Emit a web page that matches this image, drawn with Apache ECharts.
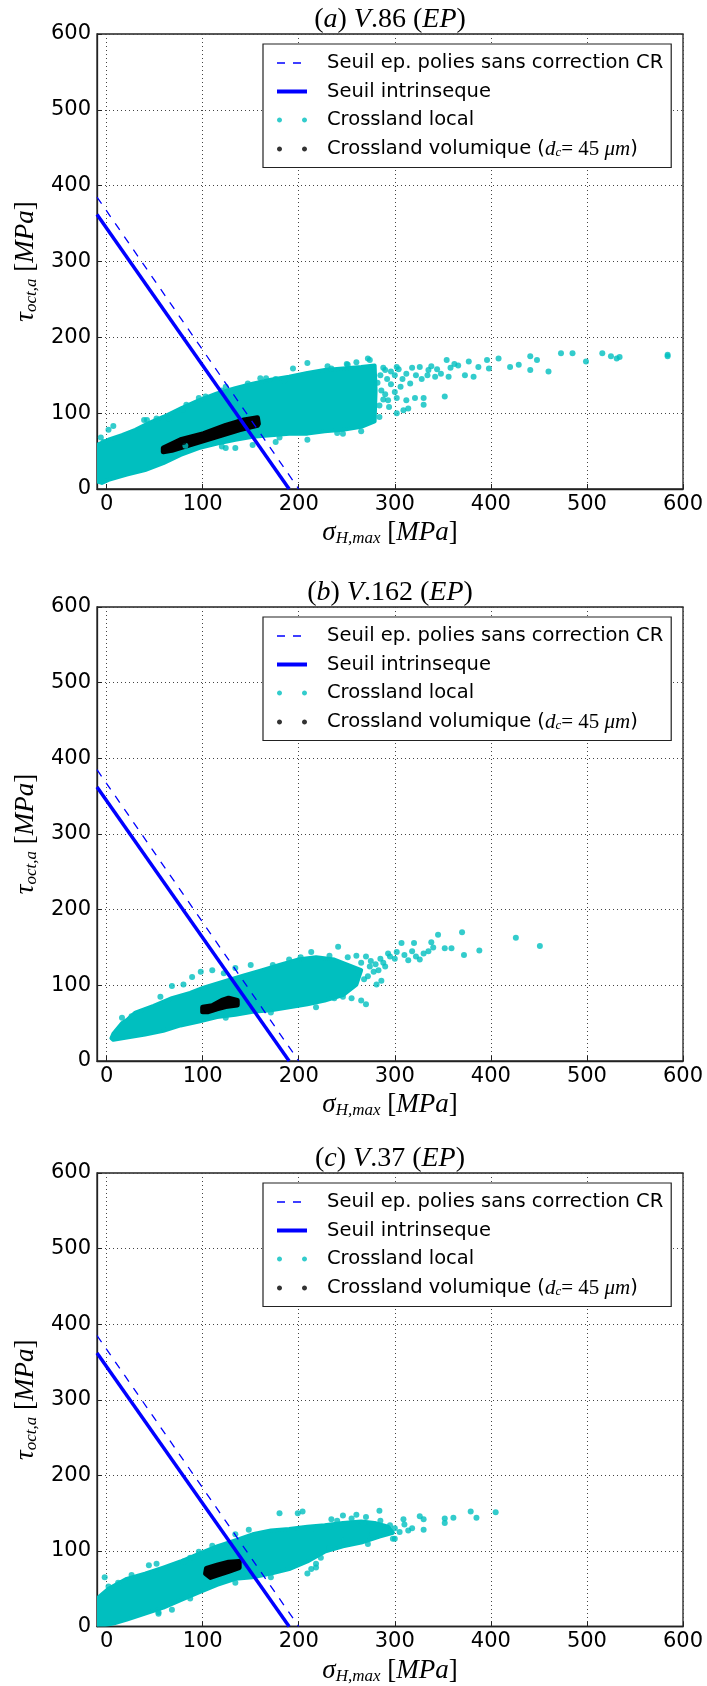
<!DOCTYPE html>
<html>
<head>
<meta charset="utf-8">
<script src="https://cdn.jsdelivr.net/npm/echarts@6/dist/echarts.min.js"></script>
<style>
  html, body { margin: 0; padding: 0; background: #fff; }
  #chart { width: 707px; height: 1686px; }
</style>
</head>
<body>
<div id="chart"></div>
<script>
// panel titles: [letter, specimen]
const panelTitles = [['a', '86'], ['b', '162'], ['c', '37']];

// threshold lines [sigma_H,max, tau_oct,a]
const seuilCR = [[-10, 385], [200, 0]];
const seuilIntr = [[-10, 362], [190, 0]];

// outline of the dense "Crossland local" cloud, per panel
const cloudA = [[-10, 58], [2, 65], [16, 71], [30, 78], [44, 87], [59, 95], [77, 106], [96, 117], [115, 126], [134, 133], [152, 139], [171, 144], [190, 148], [209, 153], [227, 157], [246, 159], [265, 161], [279, 163], [280, 130], [279, 89], [265, 82], [246, 78], [227, 76], [209, 73], [190, 73], [171, 71], [152, 69], [134, 65], [115, 60], [96, 54], [77, 45], [59, 34], [40, 25], [21, 19], [2, 12], [-5, 8], [-10, 10]];
const cloudB = [[5, 30], [7, 36], [16, 50], [21, 54], [30, 64], [49, 73], [68, 83], [87, 90], [101, 97], [124, 106], [143, 113], [162, 120], [180, 127], [199, 134], [218, 137], [237, 134], [251, 127], [265, 120], [260, 101], [246, 87], [227, 80], [209, 75], [190, 71], [171, 67], [152, 65], [134, 61], [115, 58], [96, 52], [77, 47], [59, 40], [40, 35], [21, 31], [7, 28]];
const cloudC = [[-10, 37], [2, 50], [21, 63], [40, 70], [59, 78], [77, 86], [96, 96], [115, 106], [134, 114], [152, 122], [171, 127], [190, 129], [209, 132], [227, 134], [246, 137], [265, 139], [279, 137], [293, 132], [298, 124], [284, 119], [265, 111], [246, 106], [227, 99], [209, 86], [190, 76], [171, 70], [152, 65], [134, 63], [115, 55], [96, 45], [77, 35], [59, 25], [40, 17], [21, 9], [7, 4], [-10, 0]];

// scattered "Crossland local" points outside the dense cloud
const localA = [[473, 179], [485, 179], [499, 168], [516, 179], [525, 175], [534, 174], [531, 172], [584, 177], [584, 175],
  [420, 161], [429, 164], [441, 175], [448, 170], [441, 157], [460, 155], [408, 172], [396, 170], [398, 159], [387, 161], [382, 148], [373, 150], [366, 163], [377, 168], [356, 148], [354, 170], [352, 122], [330, 120], [330, 111], [321, 120], [312, 117], [302, 120], [293, 117], [309, 104], [302, 100], [314, 106], [342, 148], [335, 157], [326, 161], [316, 139], [302, 161], [290, 157], [274, 170], [284, 95],
  [285, 150], [288, 160], [292, 145], [296, 155], [300, 150], [304, 158], [308, 145], [312, 152], [318, 160], [322, 150], [328, 145], [334, 150], [338, 162], [344, 158], [348, 152], [358, 160], [362, 165], [286, 130], [290, 125], [296, 138], [300, 128], [306, 135], [284, 110], [288, 118], [294, 108], [282, 140],
  [7, 83], [39, 91], [42, 91], [52, 93], [65, 93], [79, 105], [83, 111], [103, 122], [147, 139], [176, 145], [185, 143], [209, 166], [120, 130], [160, 146], [230, 162], [250, 165], [260, 167], [134, 54], [120, 56], [82, 57], [-6, 68], [-3, 62], [180, 68], [240, 74],
  [96, 120], [124, 135], [166, 146], [194, 159], [234, 159], [251, 164], [272, 172], [124, 54], [152, 58], [176, 62], [209, 65], [246, 73], [265, 76], [2, 78]];
const localB = [[370, 170], [345, 167], [426, 163], [451, 152], [372, 140], [388, 146], [352, 149], [359, 149], [338, 157], [320, 156], [307, 156], [293, 142], [302, 144], [330, 142], [326, 134], [314, 133], [288, 130], [274, 125], [270, 138], [260, 139], [241, 151], [251, 137], [286, 106], [281, 101], [265, 80], [270, 75], [255, 83], [246, 85], [237, 83], [232, 139], [213, 144], [202, 137], [190, 134], [173, 127], [150, 127], [134, 123], [122, 116], [110, 120], [98, 118], [89, 111], [80, 101], [68, 99], [56, 85], [16, 57], [26, 59],
  [265, 130], [275, 132], [280, 128], [285, 135], [295, 138], [300, 135], [310, 140], [318, 145], [322, 138], [335, 145], [340, 150], [278, 118], [272, 112], [268, 108], [283, 120], [290, 125],
  [171, 64], [218, 71], [124, 57]];
const localC = [[405, 151], [379, 152], [385, 144], [361, 144], [352, 143], [352, 137], [330, 142], [330, 128], [326, 146], [314, 127], [309, 142], [300, 116], [295, 134], [284, 153], [267, 137], [260, 148], [246, 147], [234, 142], [232, 132], [218, 129], [204, 152], [199, 150], [180, 150], [148, 128], [134, 122], [110, 107], [96, 99], [87, 91], [80, 86], [52, 83], [44, 81], [26, 68], [12, 58], [-2, 65], [2, 53], [54, 19], [68, 22], [223, 91], [218, 83], [209, 70], [213, 76], [232, 104], [248, 114], [298, 116], [277, 122], [272, 109],
  [300, 130], [305, 125], [290, 128], [285, 140], [270, 145], [255, 143], [240, 140], [310, 135], [318, 130],
  [54, 17], [87, 37], [134, 58], [171, 65], [218, 78]];

// outline of the "Crossland volumique" band, per panel
const blobA = [[59, 54], [77, 65], [101, 73], [124, 84], [143, 91], [157, 94], [158, 86], [157, 84], [138, 78], [115, 69], [91, 60], [68, 51], [59, 49]];
const blobB = [[100, 71], [110, 73], [120, 80], [127, 83], [136, 80], [136, 74], [124, 72], [115, 69], [105, 65], [100, 65]];
const blobC = [[104, 77], [115, 81], [127, 85], [138, 86], [138, 78], [127, 73], [115, 68], [108, 65], [103, 70]];
const volA = [[62, 52], [80, 62], [100, 69], [120, 77], [140, 85], [155, 89]];
const volB = [[103, 68], [115, 72], [125, 77], [133, 77]];
const volC = [[106, 71], [118, 76], [128, 79], [136, 82]];

const clouds = [cloudA, cloudB, cloudC];
const locals = [localA, localB, localC];
const blobs = [blobA, blobB, blobC];
const vols = [volA, volB, volC];

const NAME_CR = 'Seuil ep. polies sans correction CR';
const NAME_INT = 'Seuil intrinseque';
const NAME_LOC = 'Crossland local';
const NAME_VOL = 'Crossland volumique (dc= 45 µm)';

const CYAN = '#00bfbf';
const BLUE = '#0000ff';

// legend handle: two round dots, as small polygons
function dotPath(cx) {
  let d = '';
  for (let k = 0; k < 16; k++) {
    const a = k / 16 * Math.PI * 2;
    d += (k ? 'L' : 'M') + (cx + 2.5 * Math.cos(a)).toFixed(2) + ',' + (2.5 + 2.5 * Math.sin(a)).toFixed(2);
  }
  return d + 'Z';
}
const dotsIcon = 'path://' + dotPath(2.5) + dotPath(27.5);

const grids = [{ top: 34, height: 455 }, { top: 607, height: 454 }, { top: 1173, height: 455 }];
const serif = 'Liberation Serif';

const mathRich = {
  s: { fontFamily: serif, fontSize: 27, lineHeight: 30, fontStyle: 'italic', color: '#000' },
  u: { fontFamily: serif, fontSize: 27, lineHeight: 30, color: '#000' },
  sub: { fontFamily: serif, fontSize: 17, lineHeight: 30, fontStyle: 'italic', color: '#000', padding: [12, 0, 0, 0] }
};

function polygonSeries(name, pts, color, idx, width) {
  return {
    name: name, type: 'custom', xAxisIndex: idx, yAxisIndex: idx,
    data: pts, encode: { x: 0, y: 1 }, silent: true,
    renderItem: function (params, api) {
      if (params.dataIndex !== 0) return;
      const cs = params.coordSys;
      return {
        type: 'polygon',
        shape: { points: pts.map(p => api.coord(p)) },
        style: { fill: color, stroke: color, lineWidth: width, lineJoin: 'round' },
        clipPath: { type: 'rect', shape: { x: cs.x, y: cs.y, width: cs.width, height: cs.height } }
      };
    }
  };
}

const option = {
  animation: false,
  backgroundColor: '#fff',
  grid: grids.map(g => ({ left: 97, width: 586, top: g.top, height: g.height, show: true, borderColor: '#222', borderWidth: 1.3, backgroundColor: 'transparent' })),
  xAxis: grids.map((g, i) => ({
    gridIndex: i, type: 'value', min: -10, max: 600, splitNumber: 6,
    axisLine: { show: true, onZero: false, lineStyle: { color: '#222', width: 1.3 } },
    axisTick: { show: true, inside: true, length: 5, lineStyle: { color: '#222' } },
    axisLabel: { showMinLabel: false, fontFamily: 'DejaVu Sans', fontSize: 21, color: '#000', margin: 5 },
    splitLine: { show: true, lineStyle: { color: '#444', width: 1, type: [1, 3] } },
    name: '{s|σ}{sub|H,max}{u| [}{s|MPa}{u|]}', nameLocation: 'middle', nameGap: 29,
    nameTextStyle: { rich: mathRich }
  })),
  yAxis: grids.map((g, i) => ({
    gridIndex: i, type: 'value', min: 0, max: 600, interval: 100,
    axisLine: { show: true, onZero: false, lineStyle: { color: '#222', width: 1.3 } },
    axisTick: { show: true, inside: true, length: 5, lineStyle: { color: '#222' } },
    axisLabel: { fontFamily: 'DejaVu Sans', fontSize: 21, color: '#000', margin: 6 },
    splitLine: { show: true, lineStyle: { color: '#444', width: 1, type: [1, 3] } },
    name: '{s|τ}{sub|oct,a}{u| [}{s|MPa}{u|]}', nameLocation: 'middle', nameGap: 52, nameRotate: 90,
    nameTextStyle: { rich: mathRich }
  })),
  legend: grids.map(g => ({
    orient: 'vertical', left: 263, top: g.top + 10,
    selectedMode: false,
    backgroundColor: '#fff', borderColor: '#222', borderWidth: 1.2, borderRadius: 0,
    padding: [9, 8, 8, 12],
    itemWidth: 30, itemHeight: 5, itemGap: 8.5, itemTextGap: 21,
    data: [
      { name: NAME_CR, itemStyle: { opacity: 0 }, lineStyle: { width: 1.3, type: [8, 8] } },
      { name: NAME_INT, itemStyle: { opacity: 0 }, lineStyle: { width: 4 } },
      { name: NAME_LOC, icon: dotsIcon },
      { name: NAME_VOL, icon: dotsIcon }
    ],
    formatter: function (name) {
      if (name === NAME_VOL) return 'Crossland volumique ({m|d}{ms|c}{r|= 45 }{m|μm})';
      return name;
    },
    textStyle: {
      fontFamily: 'DejaVu Sans', fontSize: 19.5, color: '#000', lineHeight: 20,
      padding: [0, 0, 0, 15],
      rich: {
        m: { fontFamily: serif, fontStyle: 'italic', fontSize: 21, lineHeight: 20, color: '#000' },
        ms: { fontFamily: serif, fontStyle: 'italic', fontSize: 13, lineHeight: 20, color: '#000', padding: [8, 0, 0, 0] },
        r: { fontFamily: serif, fontSize: 21, lineHeight: 20, color: '#000' }
      }
    }
  })),
  graphic: panelTitles.map((t, i) => ({
    type: 'text', x: 390, y: grids[i].top - 14, silent: true,
    style: {
      text: '(' + '{i|' + t[0] + '}) {i|V}.' + t[1] + ' ({i|EP})',
      fontFamily: serif, fontSize: 28, fill: '#000', align: 'center', verticalAlign: 'middle',
      rich: { i: { fontFamily: serif, fontSize: 28, fontStyle: 'italic', color: '#000' } }
    }
  })),
  series: []
};

for (let i = 0; i < 3; i++) {
  option.series.push(polygonSeries('nuage local ' + i, clouds[i], CYAN, i, 4));
  option.series.push({
    name: NAME_LOC, type: 'scatter', xAxisIndex: i, yAxisIndex: i, data: locals[i],
    symbol: 'circle', symbolSize: 6, itemStyle: { color: CYAN, borderWidth: 0 }
  });
  option.series.push({
    name: NAME_CR, type: 'line', xAxisIndex: i, yAxisIndex: i, data: seuilCR,
    symbol: 'none', showSymbol: false, lineStyle: { color: BLUE, width: 1.3, type: [8, 8] }, itemStyle: { color: BLUE }
  });
  option.series.push({
    name: NAME_INT, type: 'line', xAxisIndex: i, yAxisIndex: i, data: seuilIntr,
    symbol: 'none', showSymbol: false, lineStyle: { color: BLUE, width: 3.5 }, itemStyle: { color: BLUE }
  });
  option.series.push(polygonSeries('bande volumique ' + i, blobs[i], '#000', i, 5));
  option.series.push({
    name: NAME_VOL, type: 'scatter', xAxisIndex: i, yAxisIndex: i, data: vols[i],
    symbol: 'circle', symbolSize: 6, itemStyle: { color: '#000', borderWidth: 0 }
  });
}

const chart = echarts.init(document.getElementById('chart'));
chart.setOption(option);
</script>
</body>
</html>
